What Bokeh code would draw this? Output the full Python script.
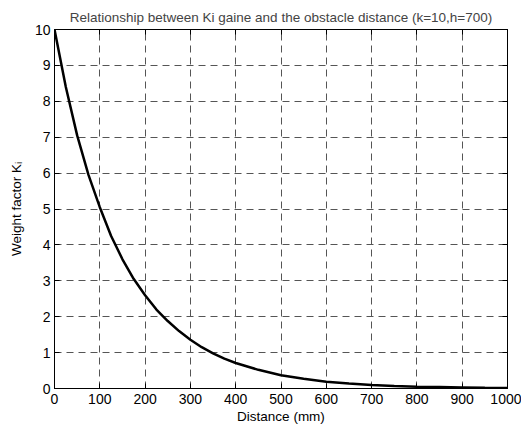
from bokeh.plotting import figure
from bokeh.embed import file_html
from bokeh.resources import INLINE
from bokeh.models import LinearAxis, FixedTicker, Title

distance = [0, 25, 50, 75, 100, 125, 150, 175, 200, 225, 250, 275, 300, 325, 350, 375,
            400, 450, 500, 550, 600, 650, 700, 750, 800, 850, 900, 950, 1000]
weight = [10.0, 8.4, 7.05, 5.95, 5.05, 4.25, 3.6, 3.05, 2.6, 2.2, 1.88, 1.6, 1.36, 1.15,
          0.98, 0.83, 0.71, 0.52, 0.37, 0.27, 0.19, 0.14, 0.10, 0.07, 0.05, 0.04, 0.03,
          0.02, 0.015]
x_ticks = [0, 100, 200, 300, 400, 500, 600, 700, 800, 900, 1000]
y_ticks = [0, 1, 2, 3, 4, 5, 6, 7, 8, 9, 10]

title_text = "Relationship between Ki gaine and the obstacle distance (k=10,h=700)"
font = "Liberation Sans"

p = figure(width=521, height=430, x_range=(0, 1000), y_range=(0, 10),
           output_backend="svg", toolbar_location=None,
           min_border_left=54, min_border_right=14, min_border_top=29, min_border_bottom=42,
           x_axis_label="Distance (mm)", y_axis_label="Weight factor Kᵢ")
p.background_fill_color = "white"
p.border_fill_color = "white"
p.outline_line_color = "black"
p.outline_line_width = 1

p.title = Title(text=title_text, text_font=font, text_font_size="13.5px",
                text_font_style="normal", align="center", offset=0, standoff=10)

for ax in (p.xaxis[0], p.yaxis[0]):
    ax.major_tick_in = 5
    ax.major_tick_out = 0
    ax.minor_tick_line_color = None
    ax.axis_line_color = "black"
    ax.major_tick_line_color = "black"
    ax.major_label_text_font = font
    ax.major_label_text_font_size = "14px"
    ax.major_label_text_color = "black"
    ax.axis_label_text_font = font
    ax.axis_label_text_font_size = "13.5px"
    ax.axis_label_text_font_style = "normal"
    ax.axis_label_text_color = "black"

p.xaxis.ticker = FixedTicker(ticks=x_ticks)
p.yaxis.ticker = FixedTicker(ticks=y_ticks)
p.xaxis.major_label_standoff = 5
p.xaxis.axis_label_standoff = 2
p.yaxis.major_label_standoff = 4
p.yaxis.axis_label_standoff = 8

top = LinearAxis(ticker=FixedTicker(ticks=x_ticks), major_label_text_color=None,
                 major_label_text_font_size="1px",
                 major_tick_in=5, major_tick_out=0, minor_tick_line_color=None,
                 major_label_standoff=0, axis_line_color="black")
right = LinearAxis(ticker=FixedTicker(ticks=y_ticks), major_label_text_color=None,
                   major_label_text_font_size="1px",
                   major_tick_in=5, major_tick_out=0, minor_tick_line_color=None,
                   major_label_standoff=0, axis_line_color="black")
p.add_layout(top, "above")
p.add_layout(right, "right")

p.xgrid.ticker = FixedTicker(ticks=x_ticks)
p.ygrid.ticker = FixedTicker(ticks=y_ticks)
for g in (p.xgrid[0], p.ygrid[0]):
    g.grid_line_color = "#555555"
    g.grid_line_dash = "7 5"
    g.grid_line_width = 1

p.line(distance, weight, line_color="black", line_width=2.5)

open("out.html", "w").write(file_html(p, INLINE))
